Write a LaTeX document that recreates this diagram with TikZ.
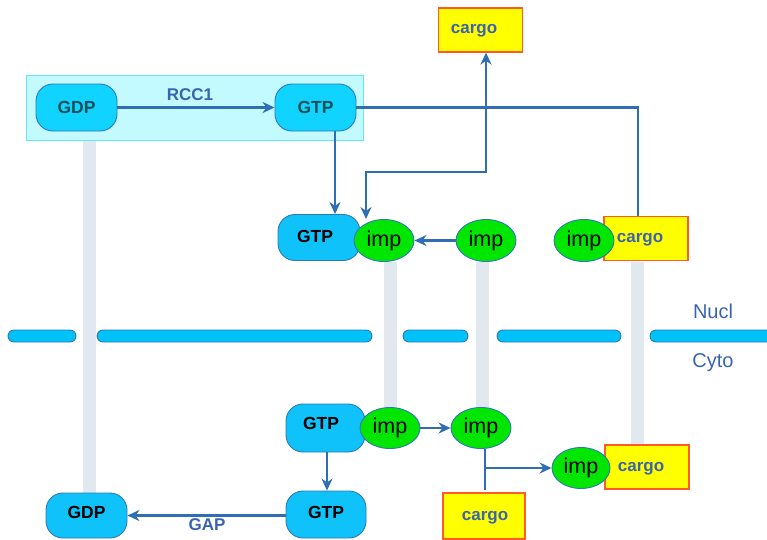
\documentclass[tikz,border=0pt]{standalone}
\usepackage{fontspec}
\setmainfont{Liberation Sans}
\usetikzlibrary{arrows.meta,shapes.geometric}
\definecolor{ranfill}{HTML}{10C2FA}
\definecolor{rantop}{HTML}{10D4FF}
\definecolor{randraw}{HTML}{2E78B8}
\definecolor{toptext}{HTML}{0E4F58}
\definecolor{impfill}{HTML}{00E600}
\definecolor{cargofill}{HTML}{FFFF00}
\definecolor{cargodraw}{HTML}{FF5A28}
\definecolor{bluetext}{HTML}{3A64B0}
\definecolor{linecol}{HTML}{2F6DB5}
\definecolor{barcol}{HTML}{E1E8F0}
\definecolor{memfill}{HTML}{00C2FA}
\definecolor{boxfill}{HTML}{C2FAFF}
\definecolor{boxdraw}{HTML}{60E8F5}
\tikzset{
  ran/.style={draw=randraw, line width=0.9pt, fill=ranfill, rounded corners=17pt, minimum width=81pt, minimum height=47pt, inner sep=0pt},
  rantxt/.style={font=\fontsize{17.5}{17.5}\selectfont\bfseries, text=black, inner sep=0pt},
  imp/.style={ellipse, draw=randraw, line width=0.9pt, fill=impfill, minimum width=60pt, minimum height=42pt, inner sep=0pt, font=\fontsize{21.5}{21.5}\selectfont, text=black},
  cargobox/.style={draw=cargodraw, line width=1.2pt, fill=cargofill, minimum width=84pt, minimum height=44pt, inner sep=0pt},
  cargotxt/.style={font=\fontsize{17}{17}\selectfont\bfseries, text=bluetext, inner sep=0pt},
  conn/.style={draw=linecol, line width=2.4pt},
  tip/.tip={Stealth[length=12pt,width=11pt]},
  arr/.style={conn, -tip},
  bar/.style={barcol, line width=13pt},
  mem/.style={draw=randraw, line width=0.9pt, fill=memfill, rounded corners=6pt},
  lbl/.style={font=\fontsize{17}{17}\selectfont\bfseries, text=bluetext, inner sep=0pt},
  side/.style={font=\fontsize{20}{20}\selectfont, text=bluetext, inner sep=0pt}
}
\begin{document}
\begin{tikzpicture}[x=1pt,y=-1pt]
\useasboundingbox (0,0) rectangle (767,539);
% translucent box behind top row
\draw[boxdraw, line width=1pt, fill=boxfill] (26,75) rectangle (363,140);
% gray bars
\draw[bar] (89.5,141) -- (89.5,494);
\draw[bar] (390.5,262) -- (390.5,408);
\draw[bar] (482,262) -- (482,408);
\draw[bar] (637.5,262) -- (637.5,446);
% membrane
\draw[mem] (8,330) rectangle (76,342);
\draw[mem] (97,330) rectangle (372,342);
\draw[mem] (403,330) rectangle (468,342);
\draw[mem] (497,330) rectangle (621,342);
\draw[mem] (650,330) rectangle (775,342);
\node[side] (nucl) at (713,311) {Nucl};
\node[side] (cyto) at (713,363) {Cyto};
% top row
\node[ran, fill=rantop] (gdp1) at (76.5,107.5) {};
\node[rantxt, text=toptext] (gdp1t) at (76.5,107.5) {GDP};
\node[ran, fill=rantop] (gtp1) at (315.5,107.5) {};
\node[rantxt, text=toptext] (gtp1t) at (315.5,107.5) {GTP};
\node[lbl] (rcc) at (190,95) {RCC1};
\draw[arr] (gdp1.east) -- (gtp1.west);
% top cargo
\node[cargobox] (cargotop) at (480.5,30) {};
\node[cargotxt] (cargotopt) at (474,31) {cargo};
% middle row
\node[ran, minimum width=82pt, minimum height=46pt] (gtp2) at (319,237.5) {};
\node[rantxt] (gtp2t) at (315,236) {GTP};
\node[imp] (impA) at (384,240.5) {imp};
\node[imp] (impB) at (486,240.5) {imp};
\node[cargobox] (cargoC) at (646,238.5) {};
\node[cargotxt] (cargoCt) at (640,240) {cargo};
\node[imp] (impC) at (584,240.5) {imp};
\draw[arr] (impB.west) -- (impA.east);
% connectors from top GTP
\draw[arr] (gtp1.south -| 335,0) -- (gtp2.north -| 335,0);
\draw[conn] (gtp1.east) -- (gtp1.east -| 638,0) -- (cargoC.north -| 638,0);
\coordinate (jA) at (366,172);
\coordinate (jB) at (486,172);
\draw[conn, tip-tip] (366,219) -- (jA) -- (jB) -- (cargotop.south -| jB);
% bottom row
\node[ran, minimum width=79pt, minimum height=48pt] (gtp3) at (325.5,428) {};
\node[rantxt] (gtp3t) at (321,423) {GTP};
\node[imp, minimum height=41pt] (impD) at (390,428) {imp};
\node[imp, minimum height=41pt] (impE) at (481,428) {imp};
\draw[arr] (impD.east) -- (impE.west);
\node[cargobox] (cargoF) at (647,467) {};
\node[cargotxt] (cargoFt) at (641,469) {cargo};
\node[imp, minimum width=58pt, minimum height=41pt] (impF) at (581,468) {imp};
\node[cargobox, minimum width=82pt, minimum height=46pt] (cargoG) at (484,516) {};
\node[cargotxt] (cargoGt) at (485,518) {cargo};
\coordinate (jC) at (485,468);
\coordinate (jD) at (485,490);
\draw[conn] (impE.south -| jC) -- (jD);
\draw[arr] (jC) -- (impF.west);
\node[ran, minimum width=80pt, minimum height=47pt] (gtp4) at (326,514.5) {};
\node[rantxt] (gtp4t) at (326,512) {GTP};
\draw[arr] (gtp3.south -| 327,0) -- (gtp4.north -| 327,0);
\node[ran, minimum width=81pt, minimum height=45pt] (gdp2) at (86.5,515.5) {};
\node[rantxt] (gdp2t) at (86.5,512.5) {GDP};
\draw[arr] (gtp4.west |- 0,515.5) -- (gdp2.east);
\node[lbl] (gap) at (207,525) {GAP};
\end{tikzpicture}
\end{document}
